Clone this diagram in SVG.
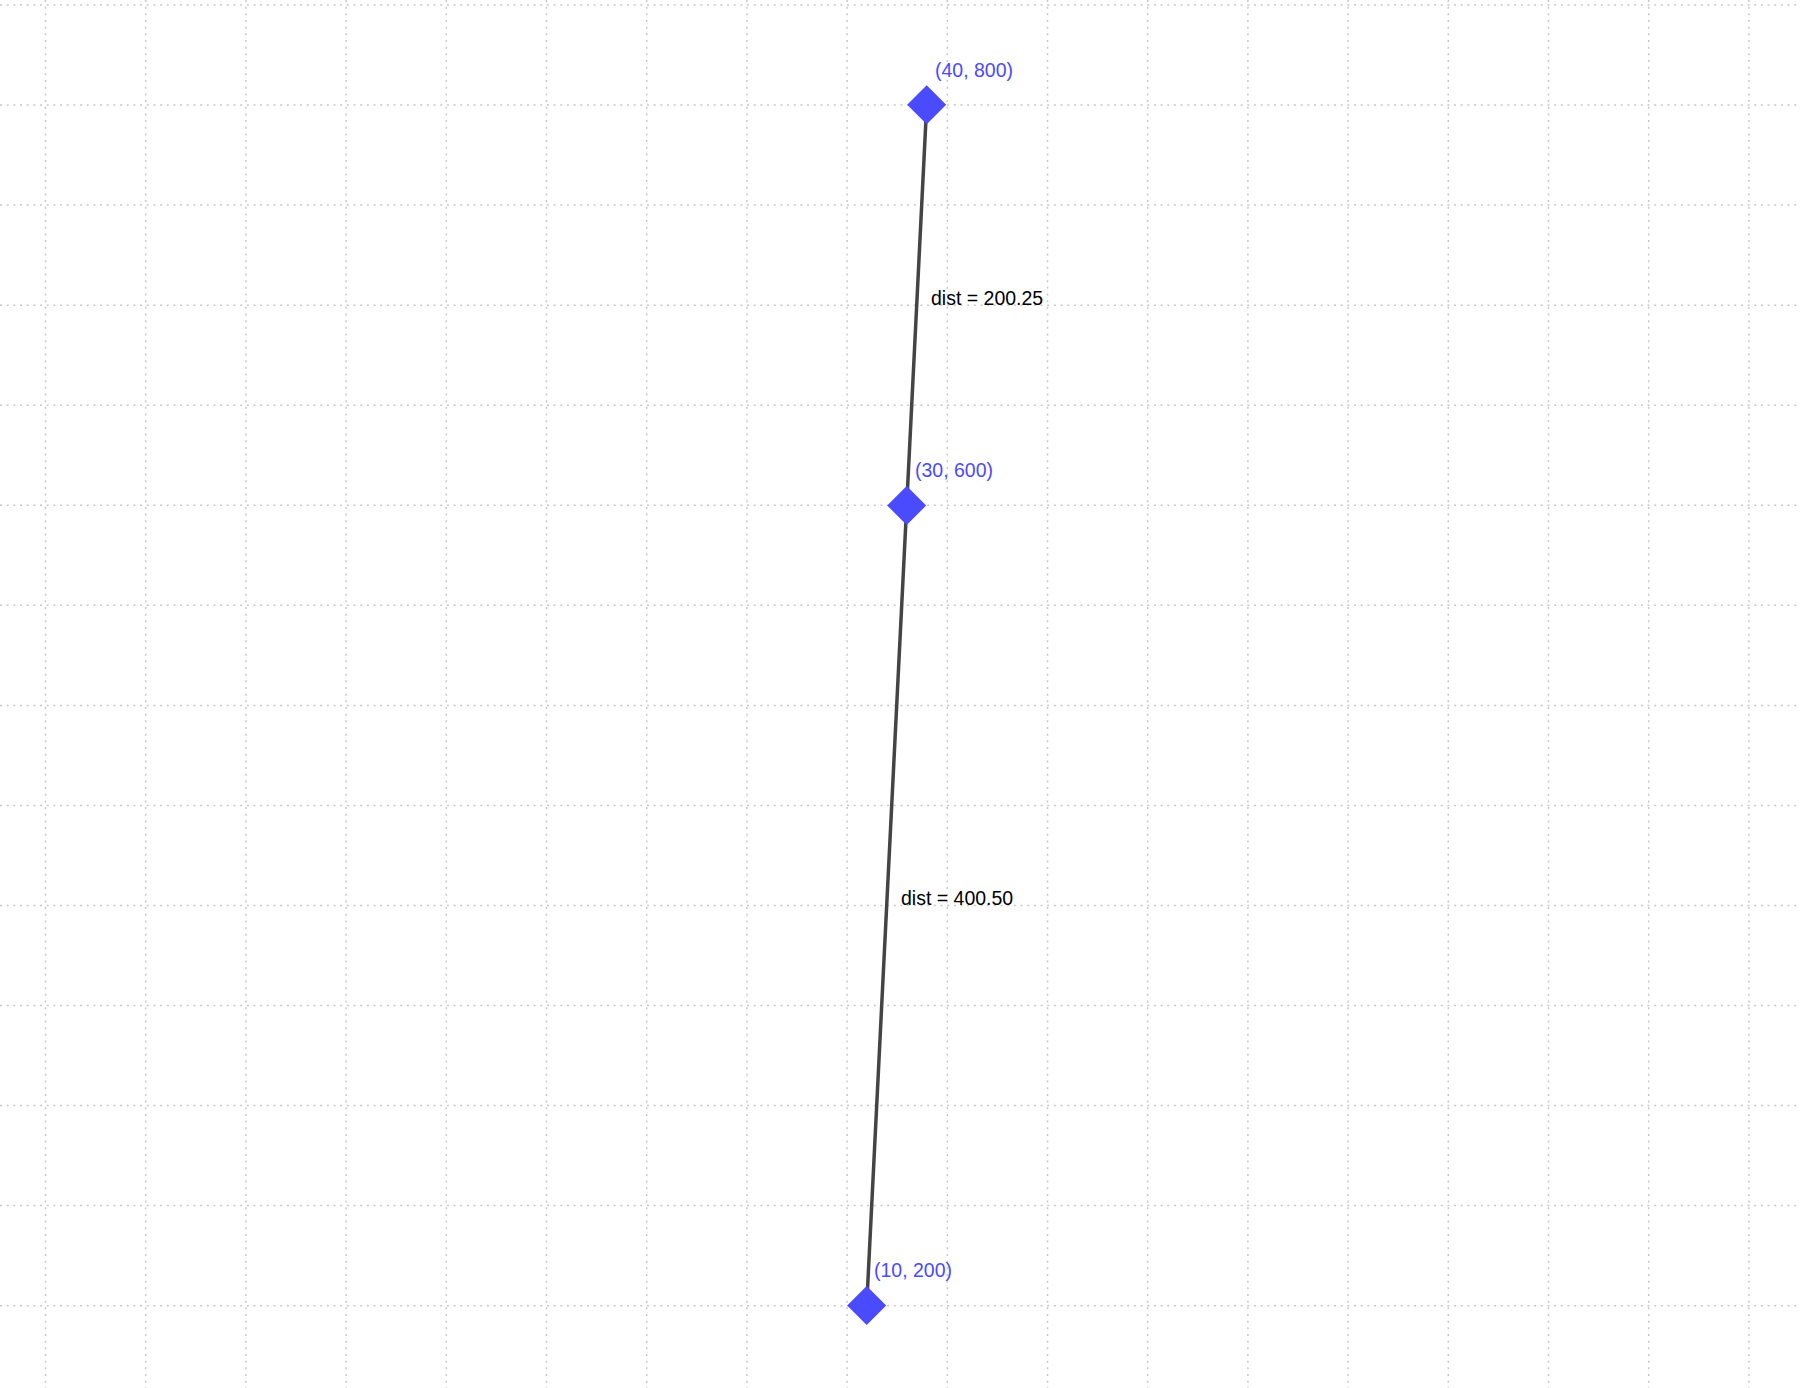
<svg xmlns="http://www.w3.org/2000/svg" width="1800" height="1388" viewBox="0 0 1800 1388">
<style>
.grid{stroke:#c8c8c8;stroke-width:1.5;stroke-dasharray:2 4.67;fill:none}
.edge{stroke:#444;stroke-width:3.5;fill:none;stroke-linecap:round}
.pt{fill:#4a4aff}
.coord{font-family:"Liberation Sans",Arial,sans-serif;font-size:19.5px;fill:#4a4aff}
.dist{font-family:"Liberation Sans",Arial,sans-serif;font-size:19.5px;fill:#000}
</style>
<rect width="1800" height="1388" fill="#fff"/>
<g id="grid" class="grid">
<path d="M45.5 0V1388M145.7 0V1388M245.9 0V1388M346.1 0V1388M446.3 0V1388M546.5 0V1388M646.7 0V1388M746.9 0V1388M847.1 0V1388M947.3 0V1388M1047.5 0V1388M1147.7 0V1388M1247.9 0V1388M1348.1 0V1388M1448.3 0V1388M1548.5 0V1388M1648.7 0V1388M1748.9 0V1388"/>
<path d="M0 5H1800M0 105H1800M0 205.1H1800M0 305.2H1800M0 405.2H1800M0 505.3H1800M0 605.3H1800M0 705.4H1800M0 805.4H1800M0 905.5H1800M0 1005.5H1800M0 1105.6H1800M0 1205.6H1800M0 1305.7H1800"/>
</g>
<g id="connectors">
<line class="edge" x1="926.7" y1="104.8" x2="906.7" y2="505.5"/>
<line class="edge" x1="906.7" y1="505.5" x2="866.7" y2="1305.5"/>
<text class="dist" x="931" y="305">dist = 200.25</text>
<text class="dist" x="901" y="905">dist = 400.50</text>
</g>
<g id="p1">
<rect class="pt" x="-13.8" y="-13.8" width="27.6" height="27.6" transform="translate(926.7 104.8) rotate(45)"/>
<text class="coord" x="935" y="77">(40, 800)</text>
</g>
<g id="p2">
<rect class="pt" x="-13.8" y="-13.8" width="27.6" height="27.6" transform="translate(906.7 505.5) rotate(45)"/>
<text class="coord" x="915" y="477.3">(30, 600)</text>
</g>
<g id="p3">
<rect class="pt" x="-13.8" y="-13.8" width="27.6" height="27.6" transform="translate(866.7 1305.5) rotate(45)"/>
<text class="coord" x="874" y="1277">(10, 200)</text>
</g>
</svg>
